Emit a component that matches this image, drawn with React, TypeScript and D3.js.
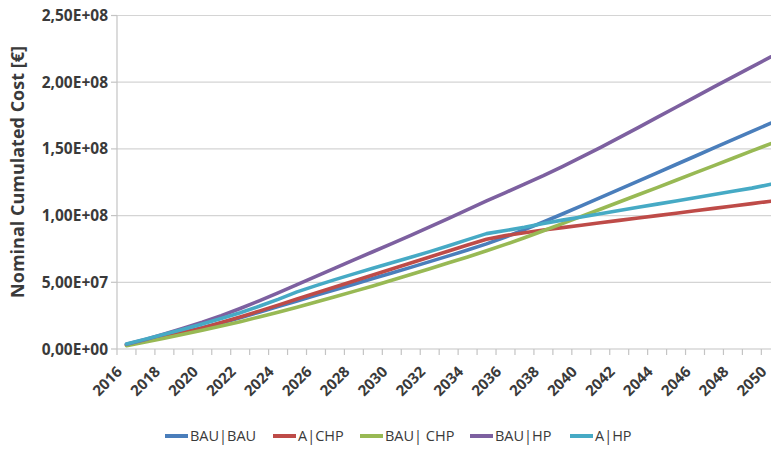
import React from "react";
import * as d3 from "d3";

// years on the category axis
const years = d3.range(2016, 2051).map(String);

// cumulated nominal cost, in units of 1E7 €
const bauBau = [0.3, 0.6, 0.92, 1.25, 1.6, 1.95, 2.35, 2.76, 3.18, 3.6, 4.02, 4.44, 4.86, 5.28, 5.7, 6.12, 6.55, 6.98, 7.42, 7.88, 8.4, 8.95, 9.52, 10.12, 10.73, 11.35, 11.97, 12.59, 13.21, 13.83, 14.45, 15.07, 15.69, 16.31, 16.93];
const aChp = [0.3, 0.6, 0.9, 1.22, 1.57, 1.98, 2.4, 2.84, 3.29, 3.75, 4.2, 4.65, 5.1, 5.55, 6.0, 6.45, 6.9, 7.35, 7.8, 8.22, 8.5, 8.72, 8.92, 9.1, 9.28, 9.46, 9.64, 9.82, 10.0, 10.18, 10.36, 10.54, 10.72, 10.9, 11.08];
const bauChp = [0.25, 0.52, 0.8, 1.1, 1.4, 1.72, 2.05, 2.4, 2.76, 3.13, 3.52, 3.92, 4.32, 4.73, 5.15, 5.58, 6.02, 6.46, 6.9, 7.36, 7.84, 8.34, 8.86, 9.4, 9.94, 10.48, 11.02, 11.56, 12.1, 12.65, 13.2, 13.75, 14.3, 14.85, 15.4];
const bauHp = [0.35, 0.72, 1.12, 1.55, 2.0, 2.5, 3.04, 3.61, 4.21, 4.83, 5.45, 6.07, 6.68, 7.29, 7.9, 8.52, 9.15, 9.8, 10.45, 11.1, 11.73, 12.36, 13.0, 13.68, 14.38, 15.1, 15.84, 16.6, 17.36, 18.12, 18.88, 19.65, 20.4, 21.15, 21.9];
const aHp = [0.38, 0.74, 1.1, 1.48, 1.87, 2.28, 2.72, 3.2, 3.72, 4.28, 4.75, 5.2, 5.63, 6.05, 6.47, 6.88, 7.3, 7.74, 8.2, 8.65, 8.88, 9.12, 9.4, 9.66, 9.9, 10.14, 10.38, 10.62, 10.86, 11.1, 11.34, 11.58, 11.82, 12.06, 12.35];

const seriesNames = ["BAU|BAU", "A|CHP", "BAU| CHP", "BAU|HP", "A|HP"];
const seriesValues = [bauBau, aChp, bauChp, bauHp, aHp];
const seriesColors = ["#4a7ebb", "#be4b48", "#98b954", "#7d60a0", "#46aac5"];

const yTicks = [0, 5e7, 1e8, 1.5e8, 2e8, 2.5e8];
const yTickLabels = ["0,00E+00", "5,00E+07", "1,00E+08", "1,50E+08", "2,00E+08", "2,50E+08"];

const W = 771;
const H = 450;
const plot = { left: 117, top: 15.5, right: 780.3, bottom: 349 };
const legendX = [165, 273, 360, 470, 570]; // legend item start positions

const font = "'Open Sans', 'DejaVu Sans', sans-serif";
const textColor = "#3a3a3a";

const App: React.FC = () => {
  const x = d3.scaleBand<string>().domain(years).range([plot.left, plot.right]).padding(0);
  const y = d3.scaleLinear().domain([0, 2.5e8]).range([plot.bottom, plot.top]);
  const cx = (yr: string) => (x(yr) as number) + x.bandwidth() / 2;

  const line = d3
    .line<number>()
    .x((_d, i) => cx(years[i]))
    .y((d) => y(d * 1e7));

  // tick boundaries between categories
  const boundaries = d3.range(years.length + 1).map((i) => plot.left + i * x.bandwidth());

  return (
    <svg
      width={W}
      height={H}
      style={{ position: "absolute", left: 0, top: 0, background: "#fff" }}
      fontFamily={font}
    >
      {/* horizontal gridlines */}
      {yTicks.slice(1).map((t) => (
        <line key={t} x1={plot.left} x2={W} y1={y(t)} y2={y(t)} stroke="#d4d4d4" strokeWidth={1.2} />
      ))}

      {/* y axis */}
      <line x1={plot.left} x2={plot.left} y1={plot.top} y2={plot.bottom} stroke="#c4c4c4" strokeWidth={1.2} />
      {yTicks.map((t, i) => (
        <g key={"yt" + t}>
          <line x1={plot.left - 6} x2={plot.left} y1={y(t)} y2={y(t)} stroke="#c4c4c4" strokeWidth={1.2} />
          <text
            x={108}
            y={y(t)}
            dy="0.36em"
            textAnchor="end"
            fontSize={15.5}
            fontWeight="bold"
            fill={textColor}
          >
            {yTickLabels[i]}
          </text>
        </g>
      ))}

      {/* x axis */}
      <line x1={plot.left} x2={W} y1={plot.bottom} y2={plot.bottom} stroke="#c4c4c4" strokeWidth={1.2} />
      {boundaries.map((bx, i) => (
        <line key={"xt" + i} x1={bx} x2={bx} y1={plot.bottom} y2={plot.bottom + 6} stroke="#c4c4c4" strokeWidth={1.2} />
      ))}
      {years
        .filter((_yr, i) => i % 2 === 0)
        .map((yr) => (
          <text
            key={"xl" + yr}
            transform={`translate(${cx(yr) - 7},${plot.bottom + 20}) rotate(-45)`}
            textAnchor="end"
            dy="0.35em"
            fontSize={15}
            fontWeight="bold"
            fill={textColor}
          >
            {yr}
          </text>
        ))}

      {/* y axis title */}
      <text
        transform={`translate(18,172) rotate(-90)`}
        textAnchor="middle"
        dy="0.35em"
        fontSize={18}
        fontWeight="bold"
        fill={textColor}
      >
        Nominal Cumulated Cost [€]
      </text>

      {/* series */}
      {seriesValues.map((vals, i) => (
        <path
          key={seriesNames[i]}
          d={line(vals) || ""}
          fill="none"
          stroke={seriesColors[i]}
          strokeWidth={3.6}
          strokeLinejoin="round"
          strokeLinecap="round"
        />
      ))}

      {/* legend */}
      {seriesNames.map((name, i) => (
        <g key={"lg" + name} transform={`translate(${legendX[i]},436)`}>
          <line x1={0} x2={23} y1={0} y2={0} stroke={seriesColors[i]} strokeWidth={4} />
          <text x={25} y={0} dy="0.36em" fontSize={14.5} fill={textColor}>
            {name}
          </text>
        </g>
      ))}
    </svg>
  );
};

export default App;
